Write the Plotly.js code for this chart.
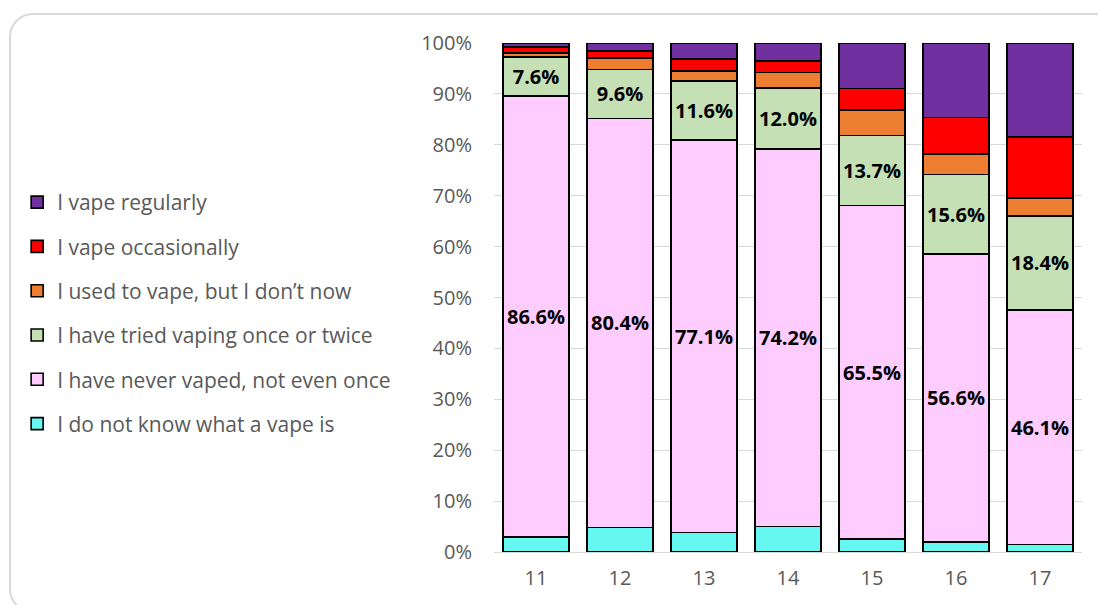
<!DOCTYPE html>
<html>
<head>
<meta charset="utf-8">
<script src="https://cdn.plot.ly/plotly-3.0.1.min.js"></script>
<style>
  html, body { margin: 0; padding: 0; background: #ffffff; overflow: hidden; }
  #frame { position: absolute; left: 9px; top: 13px; width: 1110px; height: 600px;
           border: 2px solid #d9d9d9; border-radius: 24px; box-sizing: border-box; }
  #chart { position: absolute; left: 0; top: 0; width: 1098px; height: 605px; }
</style>
</head>
<body>
<div id="frame"></div>
<div id="chart"></div>
<script>
// Categories (age)
const ages = ['11', '12', '13', '14', '15', '16', '17'];

// Series values (% of respondents)
const dontKnow     = [3.0, 4.8, 3.8, 5.0, 2.6, 2.0, 1.5];
const neverVaped   = [86.6, 80.4, 77.1, 74.2, 65.5, 56.6, 46.1];
const triedOnce    = [7.6, 9.6, 11.6, 12.0, 13.7, 15.6, 18.4];
const usedTo       = [0.8, 2.2, 2.0, 3.0, 5.0, 4.0, 3.6];
const occasionally = [1.2, 1.4, 2.3, 2.3, 4.3, 7.2, 11.9];
const regularly    = [0.8, 1.6, 3.2, 3.5, 8.9, 14.6, 18.5];

// Legend names
const seriesNames = [
  'I do not know what a vape is',
  'I have never vaped, not even once',
  'I have tried vaping once or twice',
  'I used to vape, but I don\u2019t now',
  'I vape occasionally',
  'I vape regularly'
];
const seriesValues = [dontKnow, neverVaped, triedOnce, usedTo, occasionally, regularly];
const seriesColors = ['#66F7F1', '#FFCCFF', '#C5E0B4', '#ED7D31', '#FF0000', '#7030A0'];
const labelled = [false, true, true, false, false, false];

const traces = seriesValues.map((vals, i) => ({
  type: 'bar',
  name: seriesNames[i],
  x: ages,
  y: vals,
  legendgroup: 'g' + i,
  legendrank: seriesValues.length - i,
  marker: { color: seriesColors[i], line: { color: '#000000', width: 1.6 } },
  text: labelled[i] ? vals.map(v => v.toFixed(1) + '%') : undefined,
  textposition: labelled[i] ? 'inside' : 'none',
  insidetextanchor: 'middle',
  constraintext: 'none',
  textangle: 0,
  textfont: { family: 'Open Sans', size: 20, color: '#000000', weight: 700 },
  hoverinfo: 'skip'
}));

const layout = {
  width: 1098,
  height: 605,
  barmode: 'stack',
  bargap: 0.22,
  paper_bgcolor: 'rgba(0,0,0,0)',
  plot_bgcolor: 'rgba(0,0,0,0)',
  margin: { l: 494, r: 16, t: 43, b: 53 },
  font: { family: 'Open Sans', color: '#595959', size: 20 },
  showlegend: true,
  legend: {
    x: -0.811, xanchor: 'left',
    y: 0.727, yanchor: 'top',
    traceorder: 'grouped',
    tracegroupgap: 14,
    font: { family: 'Open Sans', size: 21, color: '#595959' },
    bgcolor: 'rgba(0,0,0,0)'
  },
  xaxis: {
    type: 'category',
    range: [-0.5, 6.5],
    showgrid: false,
    showline: false,
    ticks: '',
    ticklabelstandoff: 12,
    tickfont: { family: 'Open Sans', size: 20, color: '#595959' },
    fixedrange: true
  },
  yaxis: {
    range: [0, 100],
    dtick: 10,
    tick0: 0,
    ticksuffix: '%',
    showgrid: true,
    gridcolor: '#d9d9d9',
    gridwidth: 1,
    zeroline: true,
    zerolinecolor: '#d9d9d9',
    zerolinewidth: 1,
    showline: false,
    ticks: '',
    ticklabelstandoff: 21,
    tickfont: { family: 'Open Sans', size: 20, color: '#595959' },
    fixedrange: true
  }
};

Plotly.newPlot('chart', traces, layout, { staticPlot: true, displayModeBar: false });
</script>
</body>
</html>
